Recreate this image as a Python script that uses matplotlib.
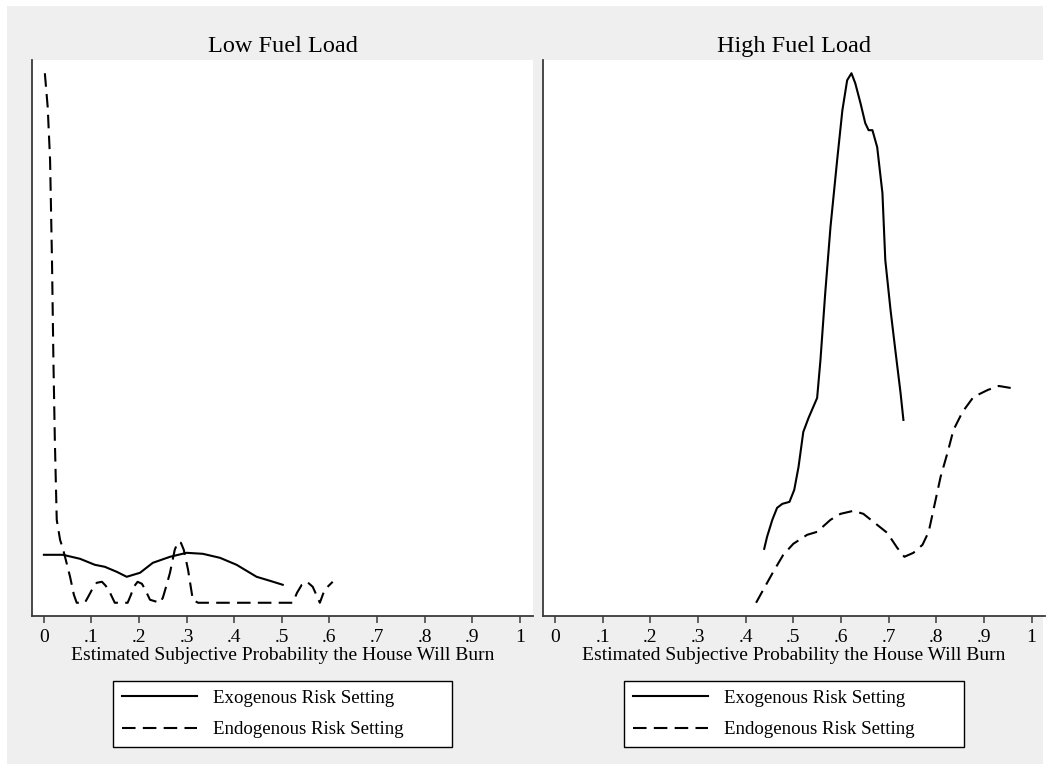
import matplotlib
matplotlib.use('Agg')
import matplotlib.pyplot as plt
from matplotlib.patches import Rectangle

plt.rcParams['font.family'] = ['Liberation Serif', 'DejaVu Serif']  # serif font like the Stata graph

# Low fuel load, exogenous risk setting (solid)
low_exo_x = [0.0, 0.040, 0.076, 0.107, 0.128, 0.153, 0.174, 0.202, 0.229, 0.265,
             0.300, 0.334, 0.370, 0.405, 0.447, 0.475, 0.502]
low_exo_y = [1.92, 1.92, 1.76, 1.52, 1.44, 1.24, 1.04, 1.20, 1.60, 1.84,
             2.00, 1.96, 1.80, 1.52, 1.04, 0.88, 0.72]

# Low fuel load, endogenous risk setting (dashed)
low_endo_x = [0.002, 0.008, 0.013, 0.017, 0.020, 0.023, 0.027, 0.034, 0.040, 0.046,
              0.055, 0.063, 0.069, 0.086, 0.092, 0.101, 0.111, 0.122, 0.130, 0.139,
              0.149, 0.176, 0.183, 0.189, 0.197, 0.206, 0.212, 0.223, 0.244, 0.250,
              0.258, 0.265, 0.275, 0.282, 0.288, 0.294, 0.303, 0.313, 0.324, 0.523,
              0.532, 0.542, 0.553, 0.565, 0.580, 0.590, 0.607]
low_endo_y = [21.2, 19.84, 17.72, 13.72, 9.72, 6.52, 3.32, 2.52, 2.16, 1.72,
              1.04, 0.32, 0.0, 0.0, 0.20, 0.52, 0.80, 0.84, 0.68, 0.40,
              0.0, 0.0, 0.32, 0.64, 0.84, 0.76, 0.56, 0.12, 0.0, 0.20,
              0.72, 1.20, 2.12, 2.44, 2.40, 2.12, 1.32, 0.12, 0.0, 0.0,
              0.40, 0.72, 0.84, 0.64, 0.0, 0.52, 0.84]

# High fuel load, exogenous risk setting (solid)
high_exo_x = [0.439, 0.445, 0.456, 0.466, 0.477, 0.492, 0.502, 0.511, 0.521, 0.532,
              0.550, 0.557, 0.567, 0.578, 0.592, 0.603, 0.613, 0.622, 0.630, 0.641,
              0.651, 0.658, 0.666, 0.676, 0.687, 0.693, 0.704, 0.714, 0.725, 0.731]
high_exo_y = [0.648, 0.792, 0.996, 1.140, 1.188, 1.212, 1.356, 1.632, 2.052, 2.220,
              2.460, 2.916, 3.720, 4.512, 5.316, 5.916, 6.276, 6.360, 6.240, 6.000,
              5.760, 5.676, 5.676, 5.472, 4.920, 4.116, 3.516, 3.036, 2.520, 2.196]

# High fuel load, endogenous risk setting (dashed)
high_endo_x = [0.422, 0.437, 0.458, 0.479, 0.500, 0.529, 0.550, 0.578, 0.599, 0.626,
               0.647, 0.668, 0.697, 0.718, 0.733, 0.752, 0.771, 0.784, 0.794, 0.809,
               0.824, 0.836, 0.855, 0.878, 0.908, 0.931, 0.956]
high_endo_y = [0.0, 0.156, 0.372, 0.576, 0.708, 0.816, 0.852, 0.996, 1.068, 1.104,
               1.068, 0.972, 0.840, 0.660, 0.552, 0.600, 0.696, 0.852, 1.116, 1.512,
               1.812, 2.076, 2.292, 2.472, 2.556, 2.604, 2.580]

titles = ['Low Fuel Load', 'High Fuel Load']
x_ticks = [0, 0.1, 0.2, 0.3, 0.4, 0.5, 0.6, 0.7, 0.8, 0.9, 1]
x_tick_labels = ['0', '.1', '.2', '.3', '.4', '.5', '.6', '.7', '.8', '.9', '1']
x_label = 'Estimated Subjective Probability the House Will Burn'
legend_labels = ['Exogenous Risk Setting', 'Endogenous Risk Setting']

W, H = 1049, 769
fig = plt.figure(figsize=(W / 100, H / 100), dpi=100)
fig.patch.set_facecolor('white')
# light gray graph region like Stata's s2 scheme
fig.patches.append(Rectangle((7 / W, 1 - 764 / H), (1043 - 7) / W, (764 - 6) / H,
                             transform=fig.transFigure, facecolor='#efefef',
                             edgecolor='none', zorder=-10))


def add_px_axes(left, top, right, bottom):
    # axes placed in pixel coordinates of the reference
    return fig.add_axes([left / W, 1 - bottom / H, (right - left) / W, (bottom - top) / H])


panels = [
    (add_px_axes(32, 60, 533, 616), low_exo_x, low_exo_y, low_endo_x, low_endo_y),
    (add_px_axes(543, 60, 1045, 616), high_exo_x, high_exo_y, high_endo_x, high_endo_y),
]

axis_color = '#3a3a3a'
for i, (ax, ex, ey, nx, ny) in enumerate(panels):
    ax.plot(ex, ey, color='black', lw=1.5, solid_joinstyle='round', label=legend_labels[0])
    ax.plot(nx, ny, color='black', lw=1.5, ls=(0, (6.5, 3.5)), dash_joinstyle='round',
            label=legend_labels[1])

    ymin = min(min(ey), min(ny))
    ymax = max(max(ey), max(ny))
    pad = (ymax - ymin) * 0.025
    ax.set_ylim(ymin - pad, ymax + pad)
    ax.set_xlim(-0.025, 1.028)

    ax.set_yticks([])
    ax.set_xticks(x_ticks)
    ax.set_xticklabels(x_tick_labels, fontsize=14)
    ax.tick_params(axis='x', direction='out', length=5, width=1.1, color=axis_color, pad=4)

    for side in ['top', 'right']:
        ax.spines[side].set_visible(False)
    for side in ['left', 'bottom']:
        ax.spines[side].set_color(axis_color)
        ax.spines[side].set_linewidth(1.3)

    ax.set_title(titles[i], fontsize=17.5, pad=6)
    ax.set_xlabel(x_label, fontsize=14, labelpad=1)

    # legend box stretched to the reference's width below the axis
    leg = ax.legend(loc='upper left', bbox_to_anchor=(0.162, -0.217, 0.677, 0.1),
                    mode='expand', borderaxespad=0, fontsize=13.6,
                    frameon=True, fancybox=False, edgecolor='black', framealpha=1,
                    handlelength=4.0, handletextpad=0.85, borderpad=0.45,
                    labelspacing=0.75)
    leg.get_frame().set_linewidth(1.0)

plt.savefig('out.png', dpi=100)
